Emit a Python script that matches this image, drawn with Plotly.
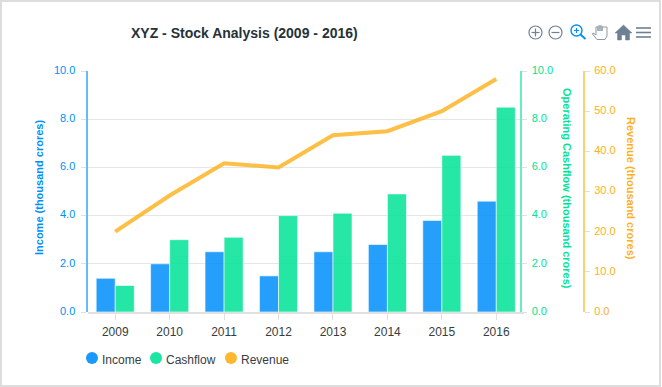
import plotly.graph_objects as go

W, H = 662, 387
years = ["2009", "2010", "2011", "2012", "2013", "2014", "2015", "2016"]
income = [1.4, 2, 2.5, 1.5, 2.5, 2.8, 3.8, 4.6]
cashflow = [1.1, 3, 3.1, 4, 4.1, 4.9, 6.5, 8.5]
revenue = [20, 29, 37, 36, 44, 45, 50, 58]

BLUE, GREEN, ORANGE = "#008FFB", "#00E396", "#FEB019"
FONT = "Liberation Sans"
L, R, T, B = 88, 523.5, 71, 312


def px(x):
    return x / W


def py(y):
    return 1 - y / H


fig = go.Figure()
fig.add_bar(x=years, y=income, name="Income", marker=dict(color=BLUE, opacity=0.85, line=dict(width=1, color="rgba(255,255,255,0.6)")),
            offsetgroup="a", yaxis="y")
fig.add_bar(x=years, y=cashflow, name="Cashflow", marker=dict(color=GREEN, opacity=0.85, line=dict(width=1, color="rgba(255,255,255,0.6)")),
            offsetgroup="b", yaxis="y")
fig.add_scatter(x=years, y=revenue, name="Revenue", mode="lines", yaxis="y3",
                line=dict(color=ORANGE, width=4), opacity=0.8)


def yaxis(color, **kw):
    base = dict(
        range=[0, 10], dtick=2, tickformat=".1f", showgrid=False, zeroline=False,
        showline=True, linecolor=color, linewidth=2, ticks="outside", ticklen=5,
        tickcolor="#e0e0e0", tickwidth=1, ticklabelstandoff=3, ticklabelshift=-1,
        automargin=False,
    )
    base.update(kw)
    return base


fig.update_layout(
    width=W, height=H, margin=dict(l=0, r=0, t=0, b=0), autosize=False,
    paper_bgcolor="white", plot_bgcolor="white", showlegend=False,
    barmode="group", bargap=0.3, bargroupgap=0,
    xaxis=dict(domain=[px(L), px(R)], type="category", showgrid=False, showline=True, automargin=False,
               linecolor="#e0e0e0", linewidth=2, ticks="outside", ticklen=6, tickcolor="#e0e0e0",
               ticklabelstandoff=2, tickfont=dict(family=FONT, size=12, color="#373d3f")),
    yaxis=yaxis("#66BBFF", domain=[py(B), py(T)], anchor="free", position=px(86.5), side="left",
                showgrid=True, gridcolor="#e6e6e6", gridwidth=1,
                tickfont=dict(family=FONT, size=11, color=BLUE)),
    yaxis2=yaxis("#66EEBF", overlaying="y", anchor="free", position=px(520.5), side="right",
                 tickfont=dict(family=FONT, size=11, color=GREEN)),
    yaxis3=yaxis("#FECF75", overlaying="y", anchor="free", position=px(584), side="right",
                 range=[0, 60], dtick=10, ticklabelstandoff=2, tickfont=dict(family=FONT, size=11, color=ORANGE)),
)
# invisible trace so the cashflow axis is drawn
fig.add_scatter(x=years, y=[None] * len(years), yaxis="y2", showlegend=False, hoverinfo="skip")

ann = [
    dict(text="<b>XYZ - Stock Analysis (2009 - 2016)</b>", x=244, y=33, size=14, color="#263238", angle=0),
    dict(text="<b>Income (thousand crores)</b>", x=39, y=188, size=11, color=BLUE, angle=-90),
    dict(text="<b>Operating Cashflow (thousand crores)</b>", x=567, y=188, size=11, color=GREEN, angle=90),
    dict(text="<b>Revenue (thousand crores)</b>", x=631, y=188, size=11, color=ORANGE, angle=90),
]
for a in ann:
    fig.add_annotation(text=a["text"], x=px(a["x"]), y=py(a["y"]), xref="paper", yref="paper",
                       showarrow=False, textangle=a["angle"], xanchor="center", yanchor="middle",
                       font=dict(family=FONT, size=a["size"], color=a["color"]))

# legend
for cx, label, colour in [(92, "Income", BLUE), (156, "Cashflow", GREEN), (231, "Revenue", ORANGE)]:
    fig.add_shape(type="circle", xref="paper", yref="paper", x0=px(cx - 6), x1=px(cx + 6), y0=py(358 + 6), y1=py(358 - 6),
                  fillcolor=colour, line=dict(width=0), opacity=0.9)
    fig.add_annotation(text=label, x=px(cx + 7.5), y=py(359.5), xref="paper", yref="paper", showarrow=False,
                       xanchor="left", yanchor="middle", font=dict(family=FONT, size=12, color="#373d3f"))

# frame
fig.add_shape(type="rect", xref="paper", yref="paper", x0=px(1), x1=px(660), y0=py(386), y1=py(1),
              line=dict(color="#dddddd", width=2), layer="below")


def icon(path, color="#6E8192", width=1.2, fill=None):
    fig.add_shape(type="path", path=path, xref="paper", yref="paper", line=dict(color=color, width=width),
                  fillcolor=fill if fill else "rgba(0,0,0,0)")


def p(*pts, close=False):
    s = "M " + " L ".join(f"{px(x):.5f},{py(y):.5f}" for x, y in pts)
    return s + (" Z" if close else "")


def circle(cx, cy, r, color="#6E8192", width=1.2):
    fig.add_shape(type="circle", xref="paper", yref="paper", x0=px(cx - r), x1=px(cx + r), y0=py(cy + r), y1=py(cy - r),
                  line=dict(color=color, width=width))


GREY = "#6E8192"
circle(535.5, 32.5, 6.5)
icon(p((531.5, 32.5), (539.5, 32.5)))
icon(p((535.5, 28.5), (535.5, 36.5)))
circle(555.5, 32.5, 6.5)
icon(p((551.5, 32.5), (559.5, 32.5)))
Z = BLUE
circle(576.5, 30.5, 5.5, Z, 1.4)
icon(p((580.5, 34.5), (585.5, 39)), Z, 1.8)
icon(p((574, 30.5), (579, 30.5)), Z, 1.1)
icon(p((576.5, 28), (576.5, 33)), Z, 1.1)
# hand
icon(p((593, 33), (596, 35), (596, 27), (598, 27), (598, 31), (598, 26), (600, 26), (600, 31), (600, 26), (602, 26), (602, 31),
       (602, 27), (604, 27), (607, 27), (607, 36), (605, 39.5), (597, 39.5), (592.5, 34), (593, 33)), "#8d9aa5", 1)
# home
icon(p((623.5, 25), (632, 33), (629.5, 33), (629.5, 40), (625.5, 40), (625.5, 35), (621.5, 35), (621.5, 40),
       (617.5, 40), (617.5, 33), (615, 33), close=True), GREY, 0.5, GREY)
# menu
for y in (28, 32.5, 37):
    icon(p((636, y), (651, y)), GREY, 1.6)

fig.write_html("out.html", include_plotlyjs=True, config=dict(displayModeBar=False),
               post_script="document.body.style.margin='0';document.body.style.overflow='hidden';")
